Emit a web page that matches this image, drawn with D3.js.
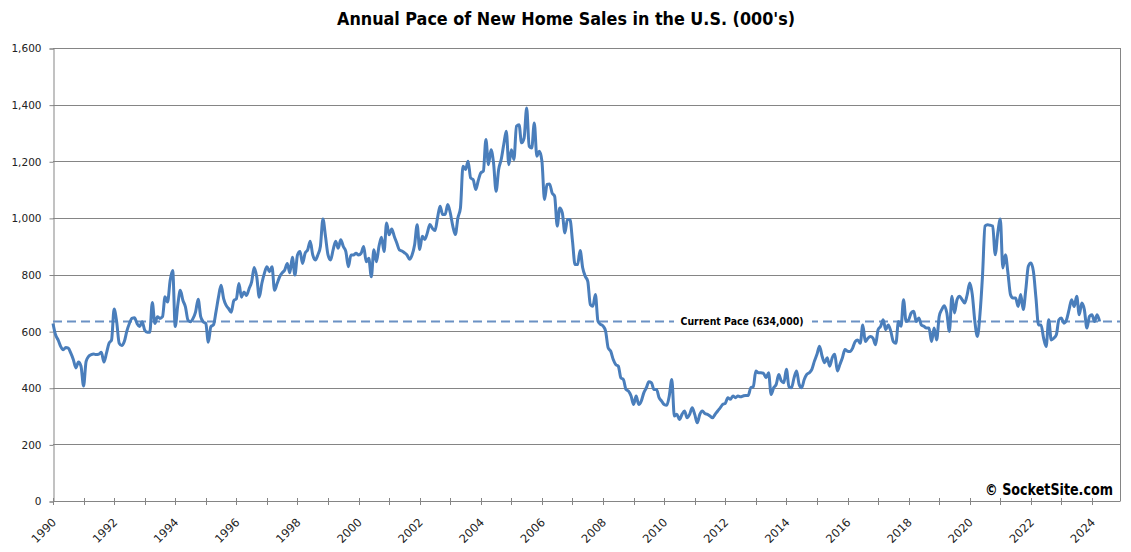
<!DOCTYPE html>
<html>
<head>
<meta charset="utf-8">
<script src="https://cdn.jsdelivr.net/npm/d3@7/dist/d3.min.js"></script>
<style>
    body { margin: 0; background: #fff; }
    .ylab { font-family: "DejaVu Sans", Verdana, sans-serif; font-size: 10.5px; fill: #222; }
    .xlab { font-family: "DejaVu Sans", Verdana, sans-serif; font-size: 11.5px; fill: #222; }
    .bold { font-family: "DejaVu Sans Condensed", "DejaVu Sans", sans-serif; font-weight: bold; fill: #000; }
</style>
</head>
<body>
<div class="chart"></div>
<script>
// monthly pace, thousands, starting Jan 1990
var startYear = 1990;
var sales = [
    627, 587, 569, 546, 534, 542, 540, 522, 499, 470, 491, 476,
    406, 493, 511, 517, 519, 517, 519, 525, 491, 522, 557, 569,
    678, 633, 557, 549, 563, 600, 627, 645, 647, 627, 616, 633,
    604, 596, 596, 701, 627, 651, 645, 651, 721, 703, 779, 814,
    616, 692, 744, 709, 686, 639, 633, 645, 668, 713, 651, 633,
    627, 561, 616, 622, 668, 721, 762, 715, 691, 679, 667, 708,
    714, 768, 720, 738, 726, 750, 774, 825, 792, 720, 768, 804,
    827, 810, 827, 744, 768, 792, 806, 816, 839, 806, 861, 798,
    869, 881, 839, 875, 887, 917, 869, 851, 869, 899, 996, 935,
    869, 851, 887, 917, 893, 923, 899, 881, 827, 869, 869, 875,
    869, 875, 899, 845, 857, 792, 887, 845, 899, 932, 881, 982,
    940, 961, 935, 911, 887, 883, 877, 869, 854, 869, 905, 976,
    888, 935, 924, 947, 977, 963, 955, 1000, 1041, 1012, 1012, 1047,
    1018, 971, 941, 1000, 1035, 1182, 1171, 1200, 1141, 1135, 1100, 1132,
    1159, 1165, 1277, 1188, 1241, 1194, 1094, 1171, 1206, 1259, 1306, 1188,
    1241, 1206, 1324, 1329, 1265, 1282, 1388, 1253, 1247, 1335, 1218, 1235,
    1200, 1065, 1118, 1120, 1088, 1076, 971, 1035, 1018, 947, 994, 994,
    918, 835, 835, 885, 824, 794, 776, 694, 688, 729, 635, 624,
    618, 600, 541, 529, 500, 482, 476, 435, 429, 394, 388, 371,
    341, 371, 341, 353, 382, 400, 421, 418, 394, 394, 365, 353,
    341, 338, 371, 429, 300, 306, 288, 306, 318, 294, 306, 329,
    306, 276, 306, 318, 309, 306, 300, 294, 306, 318, 329, 341,
    345, 365, 359, 371, 365, 371, 368, 371, 373, 373, 400, 404,
    459, 453, 453, 451, 435, 453, 376, 400, 412, 447, 424, 418,
    465, 404, 400, 435, 459, 412, 400, 429, 447, 453, 465, 494,
    518, 547, 512, 488, 506, 476, 506, 518, 459, 482, 506, 535,
    529, 528, 540, 563, 569, 557, 622, 563, 575, 581, 575, 552,
    605, 617, 640, 605, 622, 599, 563, 557, 634, 617, 711, 634,
    640, 664, 670, 634, 646, 622, 617, 611, 611, 563, 611, 569,
    652, 676, 690, 664, 599, 723, 664, 711, 723, 711, 699, 729,
    770, 729, 634, 581, 658, 794, 971, 976, 974, 971, 870, 947,
    996, 823, 870, 805, 729, 717, 717, 687, 729, 676, 746, 829,
    841, 811, 717, 622, 622, 575, 546, 640, 569, 575, 587, 640,
    646, 628, 640, 676, 711, 687, 723, 658, 699, 676, 611, 652,
    658, 634, 658, 634
];
var currentPace = 634;
var yTicks = [0, 200, 400, 600, 800, 1000, 1200, 1400, 1600];
var years = d3.range(1990, 2025);
var yearLabels = years.filter(function (y) { return y % 2 === 0; });

var W = 1131, H = 552;
var plotL = 53, plotR = 1120, plotT = 48, plotB = 501;

var x = d3.scaleLinear().domain([0, 419]).range([plotL, plotR]);
var y = d3.scaleLinear().domain([0, 1600]).range([plotB, plotT]);

var svg = d3.select(".chart").append("svg")
    .attr("width", W)
    .attr("height", H);

// gridlines
svg.selectAll("line.grid")
    .data(yTicks)
    .enter()
    .append("line")
    .attr("class", "grid")
    .attr("x1", plotL).attr("x2", plotR)
    .attr("y1", function (d) { return Math.round(y(d)) + 0.5; })
    .attr("y2", function (d) { return Math.round(y(d)) + 0.5; })
    .attr("stroke", "#858585")
    .attr("stroke-width", 1);

// left axis + labels
var yAxis = d3.axisLeft(y)
    .tickValues(yTicks)
    .tickSize(4)
    .tickPadding(8)
    .tickFormat(d3.format(","));

var gy = svg.append("g")
    .attr("transform", "translate(" + (plotL + 0.5) + ",0.5)")
    .call(yAxis);
gy.select(".domain").attr("stroke", "#858585");
gy.selectAll(".tick line").attr("stroke", "#858585");
gy.selectAll("text").attr("class", "ylab").attr("fill", null);

// right border
svg.append("line")
    .attr("x1", plotR + 0.5).attr("x2", plotR + 0.5)
    .attr("y1", plotT).attr("y2", plotB + 0.5)
    .attr("stroke", "#858585");

// year ticks
svg.selectAll("line.yt")
    .data(years)
    .enter()
    .append("line")
    .attr("class", "yt")
    .attr("x1", function (d) { return Math.round(x((d - startYear) * 12)) + 0.5; })
    .attr("x2", function (d) { return Math.round(x((d - startYear) * 12)) + 0.5; })
    .attr("y1", plotB - 3)
    .attr("y2", plotB + 4)
    .attr("stroke", "#858585");

svg.selectAll("text.xlab")
    .data(yearLabels)
    .enter()
    .append("text")
    .attr("class", "xlab")
    .attr("text-anchor", "end")
    .attr("transform", function (d) {
        return "translate(" + (x((d - startYear) * 12) + 4) + "," + (plotB + 22) + ") rotate(-45)";
    })
    .text(function (d) { return d; });

// current pace line
svg.append("line")
    .attr("x1", plotL).attr("x2", plotR)
    .attr("y1", y(currentPace)).attr("y2", y(currentPace))
    .attr("stroke", "#6b91c4")
    .attr("stroke-width", 2)
    .attr("stroke-dasharray", "9,5");

svg.append("rect")
    .attr("x", 674).attr("y", y(currentPace) - 6)
    .attr("width", 138).attr("height", 12)
    .attr("fill", "#fff");

svg.append("text")
    .attr("class", "bold")
    .attr("x", 742).attr("y", y(currentPace) + 4)
    .attr("text-anchor", "middle")
    .attr("font-size", "11px")
    .attr("textLength", 123)
    .attr("lengthAdjust", "spacingAndGlyphs")
    .text("Current Pace (634,000)");

// series
var line = d3.line()
    .x(function (d, i) { return x(i); })
    .y(function (d) { return y(d); })
    .curve(d3.curveMonotoneX);

svg.append("path")
    .datum(sales)
    .attr("d", line)
    .attr("fill", "none")
    .attr("stroke", "#4a7ebb")
    .attr("stroke-width", 3)
    .attr("stroke-linejoin", "round");

// title and credit
svg.append("text")
    .attr("class", "bold")
    .attr("x", 566).attr("y", 25)
    .attr("text-anchor", "middle")
    .attr("font-size", "17px")
    .attr("textLength", 458)
    .attr("lengthAdjust", "spacingAndGlyphs")
    .text("Annual Pace of New Home Sales in the U.S. (000's)");

svg.append("text")
    .attr("class", "bold")
    .attr("x", 1113).attr("y", 495)
    .attr("text-anchor", "end")
    .attr("font-size", "15px")
    .attr("textLength", 128)
    .attr("lengthAdjust", "spacingAndGlyphs")
    .text("\u00a9 SocketSite.com");
</script>
</body>
</html>
